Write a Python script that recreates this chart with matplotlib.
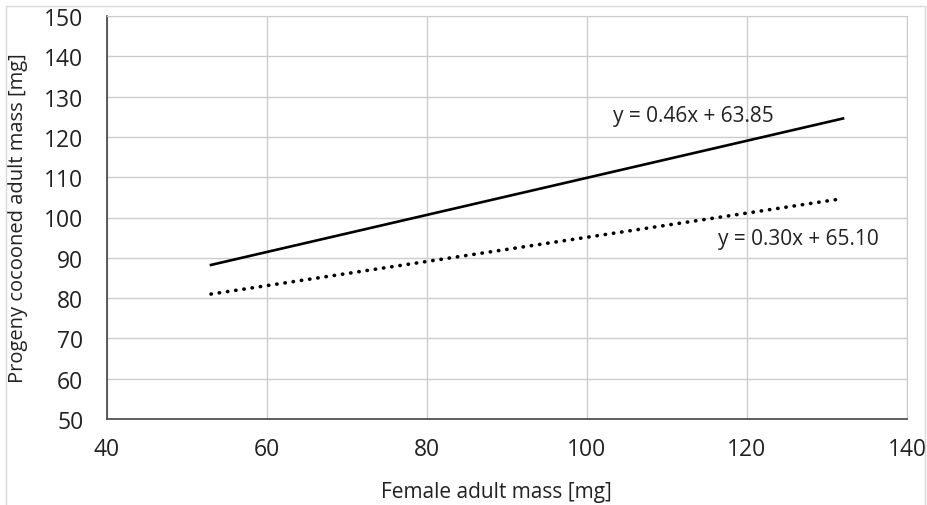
import matplotlib
matplotlib.use("Agg")
import matplotlib.pyplot as plt
from matplotlib.patches import Rectangle
import numpy as np

plt.rcParams['font.family'] = ['Open Sans', 'DejaVu Sans']

# Trend lines: x range of the fitted data, slopes and intercepts
x_range = [53, 132]
slopes = [0.46, 0.30]
intercepts = [63.85, 65.10]
labels = ["y = 0.46x + 63.85", "y = 0.30x + 65.10"]
label_pos = [(103.3, 125.4), (116.4, 94.7)]
styles = ["-", ":"]
widths = [1.9, 2.6]

x_ticks = [40, 60, 80, 100, 120, 140]
y_ticks = [50, 60, 70, 80, 90, 100, 110, 120, 130, 140, 150]

W, H = 928, 506
fig = plt.figure(figsize=(W / 100, H / 100), dpi=100)
ax = fig.add_axes([107 / W, 1 - 420 / H, (907 - 107) / W, (420 - 17) / H])

x = np.array(x_range, dtype=float)
for m, b, ls, lw in zip(slopes, intercepts, styles, widths):
    if ls == ":":
        ax.plot(x, m * x + b, color="black", lw=lw, linestyle=(0, (0.1, 2.2)),
                dash_capstyle="round", solid_capstyle="round")
    else:
        ax.plot(x, m * x + b, color="black", lw=lw, linestyle=ls)

for txt, (tx, ty) in zip(labels, label_pos):
    ax.text(tx, ty, txt, fontsize=15, color="#222222", va="center", ha="left")

ax.set_xlim(40, 140)
ax.set_ylim(50, 150)
ax.set_xticks(x_ticks)
ax.set_yticks(y_ticks)
ax.grid(True, color="#cccccc", lw=1.0)
ax.set_axisbelow(True)
for side in ["top", "right"]:
    ax.spines[side].set_color("#cccccc")
for side in ["left", "bottom"]:
    ax.spines[side].set_color("#444444")
    ax.spines[side].set_linewidth(1.2)
ax.tick_params(length=0, labelsize=16.5, labelcolor="#222222")
ax.tick_params(axis="x", pad=13)
ax.tick_params(axis="y", pad=17)

ax.set_xlabel("Female adult mass [mg]", fontsize=15, color="#222222")
ax.set_ylabel("Progeny cocooned adult mass [mg]", fontsize=14.5, color="#222222")
ax.xaxis.label.set_va("center")
ax.yaxis.label.set_va("center")
ax.xaxis.set_label_coords((496 - 107) / 800, (420 - 493) / 403)
ax.yaxis.set_label_coords((18 - 107) / 800, 0.5)

fig.patches.append(Rectangle((6 / W, -0.01), (925 - 6) / W, 1 - 7 / H + 0.01,
                             transform=fig.transFigure, fill=False,
                             edgecolor="#d9d9d9", lw=1.0))

fig.savefig("out.png", dpi=100, facecolor="white")
